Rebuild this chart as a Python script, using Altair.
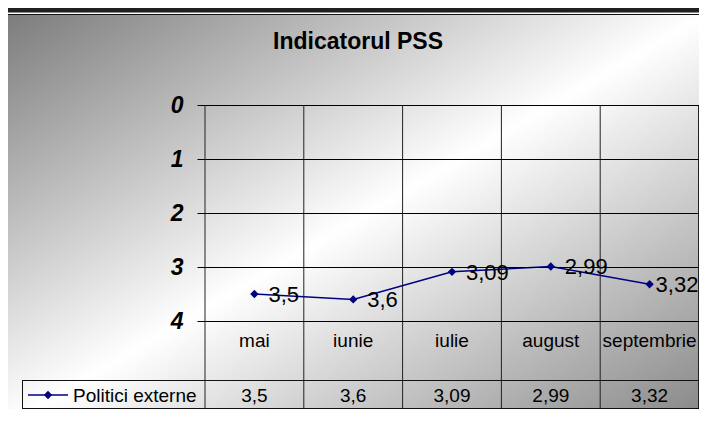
import altair as alt
import pandas as pd

# ---- data ----
months = ["mai", "iunie", "iulie", "august", "septembrie"]
values = [3.5, 3.6, 3.09, 2.99, 3.32]
value_labels = ["3,5", "3,6", "3,09", "2,99", "3,32"]
series_name = "Politici externe"
chart_title = "Indicatorul PSS"
y_ticks = [0, 1, 2, 3, 4]

FONT = "Liberation Sans"
NAVY = "#000080"
W, H = 494, 216  # plot area
ROW_BOTTOM = 303.5

df = pd.DataFrame({"month": months, "value": values, "label": value_labels})

xenc = alt.X("month:N", sort=months,
             scale=alt.Scale(paddingInner=0, paddingOuter=0), axis=None)
yenc = alt.Y("value:Q",
             scale=alt.Scale(domain=[0, 4], reverse=True, nice=False, zero=False),
             axis=alt.Axis(values=y_ticks, title=None, grid=True, gridColor="black",
                           gridWidth=1, tickColor="black", tickSize=8, tickWidth=1,
                           domain=False, labelFont=FONT, labelFontSize=23,
                           labelFontWeight="bold", labelFontStyle="italic",
                           labelColor="black", labelPadding=14, zindex=1))

one = alt.Data(values=[{"t": chart_title, "s": series_name}])

grad = alt.LinearGradient(
    gradient="linear",
    stops=[alt.GradientStop(color="#7c7c7c", offset=0),
           alt.GradientStop(color="#ffffff", offset=0.5),
           alt.GradientStop(color="#858585", offset=1)],
    x1=0, y1=0, x2=1, y2=1)

background = alt.Chart(one).mark_rect(color=grad).encode(
    x=alt.value(-198), x2=alt.value(502), y=alt.value(-91), y2=alt.value(320))

band = alt.Chart(one).mark_rect(color="#231f20").encode(
    x=alt.value(-200), x2=alt.value(502), y=alt.value(-110), y2=alt.value(-92))
band_line = alt.Chart(one).mark_rule(color="#8a8a8a", strokeWidth=1).encode(
    x=alt.value(-200), x2=alt.value(502), y=alt.value(-92.5))
top_border = alt.Chart(one).mark_rule(color="#111111", strokeWidth=1).encode(
    x=alt.value(-198), x2=alt.value(502), y=alt.value(-90.5))

title = alt.Chart(one).mark_text(font=FONT, fontSize=23, fontWeight="bold",
                                 color="black", align="center",
                                 baseline="alphabetic").encode(
    x=alt.value(153), y=alt.value(-56), text="t:N")

vlines = alt.Chart(df).mark_rule(color="#222222", strokeWidth=1).encode(
    x=alt.X("month:N", sort=months, bandPosition=0,
            scale=alt.Scale(paddingInner=0, paddingOuter=0), axis=None),
    y=alt.value(0), y2=alt.value(ROW_BOTTOM))
right_line = alt.Chart(one).mark_rule(color="#222222", strokeWidth=1).encode(
    x=alt.value(W - 0.5), y=alt.value(0), y2=alt.value(ROW_BOTTOM))
hline1 = alt.Chart(one).mark_rule(color="#111111", strokeWidth=1).encode(
    x=alt.value(-182), x2=alt.value(W), y=alt.value(275.5))
hline2 = alt.Chart(one).mark_rule(color="#111111", strokeWidth=1).encode(
    x=alt.value(-182), x2=alt.value(W), y=alt.value(ROW_BOTTOM))
legend_left = alt.Chart(one).mark_rule(color="#111111", strokeWidth=1).encode(
    x=alt.value(-182.5), y=alt.value(275), y2=alt.value(ROW_BOTTOM + 0.5))

cat_labels = alt.Chart(df).mark_text(font=FONT, fontSize=19, color="black",
                                     baseline="alphabetic").encode(
    x=xenc, y=alt.value(242), text="month:N")
row_values = alt.Chart(df).mark_text(font=FONT, fontSize=19, color="black",
                                     baseline="alphabetic").encode(
    x=xenc, y=alt.value(297), text="label:N")

legend_line = alt.Chart(one).mark_rule(color=NAVY, strokeWidth=1.5).encode(
    x=alt.value(-177), x2=alt.value(-137), y=alt.value(290))
legend_pt = alt.Chart(one).mark_point(shape="diamond", filled=True, size=70,
                                      color=NAVY, opacity=1).encode(
    x=alt.value(-157), y=alt.value(290))
legend_text = alt.Chart(one).mark_text(font=FONT, fontSize=19, color="black",
                                       align="left", baseline="alphabetic").encode(
    x=alt.value(-132), y=alt.value(297), text="s:N")

line = alt.Chart(df).mark_line(color=NAVY, strokeWidth=1.5).encode(x=xenc, y=yenc)
points = alt.Chart(df).mark_point(shape="diamond", filled=True, size=70,
                                  color=NAVY, opacity=1).encode(x=xenc, y=yenc)
labels = alt.Chart(df).transform_filter(
    alt.datum.month != months[-1]
).mark_text(font=FONT, fontSize=22, color="black",
            align="left", baseline="middle", dx=14, dy=1).encode(
    x=xenc, y=yenc, text="label:N")
last_label = alt.Chart(df).transform_filter(
    alt.datum.month == months[-1]
).mark_text(font=FONT, fontSize=22, color="black",
            align="left", baseline="middle", dx=6, dy=1).encode(
    x=xenc, y=yenc, text="label:N")

chart = alt.layer(
    background, band, band_line, top_border, title,
    vlines, right_line, hline1, hline2, legend_left,
    cat_labels, row_values, legend_line, legend_pt, legend_text,
    line, points, labels, last_label
).properties(
    width=W, height=H,
    autosize=alt.AutoSizeParams(type="none"),
    padding={"left": 197, "top": 97, "right": 0, "bottom": 88},
    background="white",
).configure_view(strokeWidth=0)

chart.save("out.html", embed_options={"renderer": "svg", "actions": False})
